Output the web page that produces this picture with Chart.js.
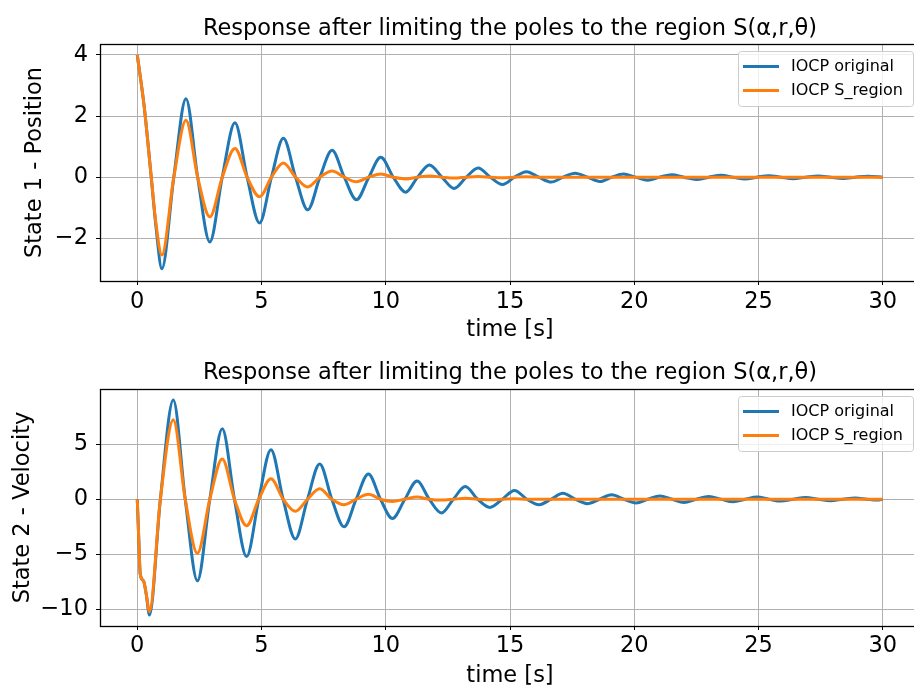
<!DOCTYPE html>
<html>
<head>
<meta charset="utf-8">
<script src="https://cdn.jsdelivr.net/npm/chart.js@4/dist/chart.umd.min.js"></script>
<style>
  body { margin: 0; background: #fff; overflow: hidden; width: 914px; height: 689px; }
  .plot { position: absolute; left: 0; }
</style>
</head>
<body>
<div class="plot" style="top:0px"><canvas id="position" width="920" height="345"></canvas></div>
<div class="plot" style="top:340px"><canvas id="velocity" width="920" height="349"></canvas></div>
<script>
const series_labels = ['IOCP original', 'IOCP S_region'];
const plot_title = 'Response after limiting the poles to the region S(\u03b1,r,\u03b8)';

// state 1 - position
const pos_time = [0, 0.28, 0.55, 0.75, 0.99, 1.47, 1.96, 2.43, 2.92, 3.42, 3.93, 4.42, 4.92, 5.4, 5.88, 6.37, 6.86, 7.35, 7.84, 8.33,
    8.82, 9.32, 9.8, 10.3, 10.8, 11.28, 11.76, 12.26, 12.75, 13.24, 13.72, 14.21, 14.7, 15.18, 15.66, 16.16, 16.66, 17.14, 17.62, 18.12,
    18.62, 19.1, 19.56, 20.05, 20.54, 21.02, 21.5, 22.0, 22.5, 23.0, 23.5, 23.98, 24.46, 24.94, 25.42, 25.9, 26.4, 26.9, 27.4, 27.9,
    28.4, 28.9, 29.4, 30.0];
const pos_original = [4.0, 2.3, 0.1, -1.6, -3.0, 0, 2.57, 0, -2.12, 0, 1.78, 0, -1.5, 0, 1.27, 0, -1.07, 0, 0.88, 0,
    -0.74, 0, 0.65, 0, -0.49, 0, 0.4, 0, -0.37, 0, 0.3, 0, -0.24, 0, 0.18, 0, -0.16, 0, 0.13, 0,
    -0.14, 0, 0.1, 0, -0.1, 0, 0.08, 0, -0.08, 0, 0.06, 0, -0.06, 0, 0.05, 0, -0.05, 0, 0.04, 0,
    -0.04, 0, 0.03, 0];
const pos_sregion = [4.0, 2.3, 0.1, -1.5, -2.55, 0, 1.86, 0, -1.3, 0, 0.94, 0, -0.64, 0, 0.46, 0, -0.32, 0, 0.2, 0,
    -0.15, 0, 0.1, 0, -0.06, 0, 0.04, 0, -0.03, 0, 0.02, 0, -0.02, 0, 0.01, 0, 0, 0, 0, 0,
    0, 0, 0, 0, 0, 0, 0, 0, 0, 0, 0, 0, 0, 0, 0, 0, 0, 0, 0, 0,
    0, 0, 0, 0];

// state 2 - velocity
const vel_time = [0, 0.06, 0.12, 0.25, 0.36, 0.49, 0.93, 1.45, 1.93, 2.42, 2.92, 3.42, 3.91, 4.4, 4.89, 5.38, 5.87, 6.36, 6.85, 7.34,
    7.83, 8.32, 8.81, 9.3, 9.79, 10.27, 10.77, 11.26, 11.75, 12.24, 12.72, 13.2, 13.7, 14.19, 14.69, 15.18, 15.68, 16.17, 16.65, 17.13,
    17.62, 18.11, 18.6, 19.09, 19.58, 20.07, 20.55, 21.03, 21.52, 22.0, 22.5, 23.0, 23.5, 23.98, 24.46, 24.94, 25.42, 25.9, 26.4, 26.9,
    27.4, 27.9, 28.4, 28.9, 29.35, 29.8, 30.0];
const vel_original = [0, -3.6, -6.8, -7.4, -8.6, -10.5, 0, 9.0, 0, -7.4, 0, 6.4, 0, -5.2, 0, 4.5, 0, -3.6, 0, 3.2,
    0, -2.5, 0, 2.3, 0, -1.75, 0, 1.65, 0, -1.25, 0, 1.15, 0, -0.75, 0, 0.8, 0, -0.5, 0, 0.55,
    0, -0.4, 0, 0.4, 0, -0.35, 0, 0.3, 0, -0.3, 0, 0.25, 0, -0.22, 0, 0.2, 0, -0.17, 0, 0.15,
    0, -0.13, 0, 0.11, 0, -0.08, 0];
const vel_sregion = [0, -3.6, -6.8, -7.4, -8.6, -10.2, 0, 7.2, 0, -4.9, 0, 3.65, 0, -2.4, 0, 1.85, 0, -1.1, 0, 0.95,
    0, -0.5, 0, 0.45, 0, -0.2, 0, 0.2, 0, -0.08, 0, 0.08, 0, -0.04, 0, 0.04, 0, 0, 0, 0,
    0, 0, 0, 0, 0, 0, 0, 0, 0, 0, 0, 0, 0, 0, 0, 0, 0, 0, 0, 0,
    0, 0, 0, 0, 0, 0, 0];

const x_ticks = [0, 5, 10, 15, 20, 25, 30];
const pos_ticks = [-2, 0, 2, 4];
const vel_ticks = [-10, -5, 0, 5];

Chart.defaults.font.family = '"DejaVu Sans", sans-serif';
Chart.defaults.color = '#000';
const text_size = 22.5;

function minus_sign(v) {
    return v < 0 ? '\u2212' + Math.abs(v) : String(v);
}

// black box round the plot area
const axes_frame = {
    id: 'axes_frame',
    afterDatasetsDraw(chart) {
        const a = chart.chartArea, ctx = chart.ctx;
        ctx.save();
        ctx.strokeStyle = '#000';
        ctx.lineWidth = 1.3;
        ctx.strokeRect(Math.round(a.left) + 0.5, Math.round(a.top) + 0.5, a.right - a.left, a.bottom - a.top);
        ctx.restore();
    }
};

// legend in the upper right corner, framed
const legend_box = {
    id: 'legend_box',
    afterDraw(chart) {
        const ctx = chart.ctx, a = chart.chartArea;
        const w = 175, h = 55;
        const x0 = a.right - 7 - w, y0 = a.top + 7;
        ctx.save();
        ctx.fillStyle = 'rgba(255,255,255,0.8)';
        ctx.strokeStyle = '#cccccc';
        ctx.lineWidth = 1;
        ctx.beginPath();
        if (ctx.roundRect) ctx.roundRect(x0 + 0.5, y0 + 0.5, w, h, 3);
        else ctx.rect(x0 + 0.5, y0 + 0.5, w, h);
        ctx.fill();
        ctx.stroke();
        ctx.font = '16px "DejaVu Sans"';
        ctx.textBaseline = 'middle';
        chart.data.datasets.forEach((ds, i) => {
            const y = y0 + 15.5 + i * 24;
            ctx.strokeStyle = ds.borderColor;
            ctx.lineWidth = ds.borderWidth;
            ctx.beginPath();
            ctx.moveTo(x0 + 5, y);
            ctx.lineTo(x0 + 41, y);
            ctx.stroke();
            ctx.fillStyle = '#000';
            ctx.fillText(ds.label, x0 + 53, y);
        });
        ctx.restore();
    }
};

function make_chart(canvas_id, time, original, sregion, y_ticks, y_min, y_max, y_label, pad) {
    const to_points = vals => vals.map((v, i) => ({ x: time[i], y: v }));
    return new Chart(document.getElementById(canvas_id), {
        type: 'line',
        data: {
            datasets: [{
                label: series_labels[0],
                data: to_points(original),
                borderColor: '#1f77b4',
                borderWidth: 3,
                pointRadius: 0,
                cubicInterpolationMode: 'monotone',
                order: 2
            }, {
                label: series_labels[1],
                data: to_points(sregion),
                borderColor: '#ff7f0e',
                borderWidth: 3,
                pointRadius: 0,
                cubicInterpolationMode: 'monotone',
                order: 1
            }]
        },
        options: {
            responsive: false,
            animation: false,
            devicePixelRatio: 1,
            layout: { padding: 0 },
            scales: {
                x: {
                    type: 'linear',
                    min: -1.5,
                    max: 31.5,
                    afterBuildTicks: s => { s.ticks = x_ticks.map(v => ({ value: v })); },
                    afterFit: s => { s.height = pad.x_height; },
                    grid: { color: '#b0b0b0', lineWidth: 1, tickColor: '#000', tickLength: 4 },
                    border: { display: false },
                    ticks: { font: { size: text_size }, padding: pad.x_ticks, maxRotation: 0, autoSkip: false, callback: minus_sign },
                    title: { display: true, text: 'time [s]', font: { size: text_size }, padding: { top: 0, bottom: pad.x_title } }
                },
                y: {
                    type: 'linear',
                    min: y_min,
                    max: y_max,
                    afterBuildTicks: s => { s.ticks = y_ticks.map(v => ({ value: v })); },
                    afterFit: s => { s.width = 100; },
                    grid: { color: '#b0b0b0', lineWidth: 1, tickColor: '#000', tickLength: 4 },
                    border: { display: false },
                    ticks: { font: { size: text_size }, padding: 8, autoSkip: false, callback: minus_sign },
                    title: { display: true, text: y_label, font: { size: text_size }, padding: { top: pad.y_title, bottom: 0 } }
                }
            },
            plugins: {
                legend: { display: false },
                tooltip: { enabled: false },
                title: {
                    display: true,
                    text: plot_title,
                    fullSize: false,
                    color: '#000',
                    font: { size: text_size, weight: 'normal' },
                    padding: { top: pad.title_top, bottom: pad.title_bottom }
                }
            }
        },
        plugins: [axes_frame, legend_box]
    });
}

make_chart('position', pos_time, pos_original, pos_sregion, pos_ticks, -3.4, 4.36, 'State 1 - Position',
    { x_height: 64, x_ticks: 3.5, x_title: 1, y_title: 22, title_top: 15.5, title_bottom: 1.5 });
make_chart('velocity', vel_time, vel_original, vel_sregion, vel_ticks, -11.5, 10.0, 'State 2 - Velocity',
    { x_height: 63, x_ticks: 2.5, x_title: -1, y_title: 10, title_top: 19.5, title_bottom: 2.5 });
</script>
</body>
</html>
